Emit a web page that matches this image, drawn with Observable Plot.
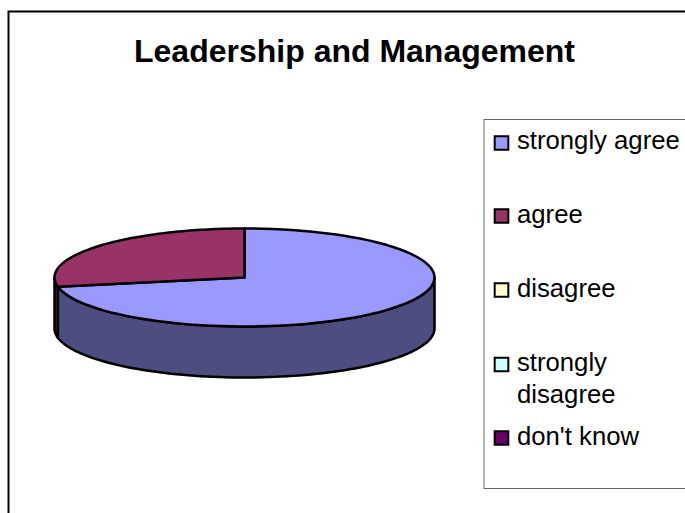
<!DOCTYPE html>
<html>
<head>
<meta charset="utf-8">
<script src="https://cdn.jsdelivr.net/npm/d3@7"></script>
<script src="https://cdn.jsdelivr.net/npm/@observablehq/plot@0.6"></script>
<style>
html,body{margin:0;padding:0;background:#fff;overflow:hidden}
svg{display:block}
</style>
</head>
<body>
<div id="chart"></div>
<script>
const chartTitle = "Leadership and Management";
const categories = ["strongly agree", "agree", "disagree", "strongly disagree", "don't know"];
const values = [72, 28, 0, 0, 0];
const colors = ["#9999ff", "#993366", "#ffffcc", "#ccffff", "#660066"];
const wallColors = ["#4d4d80", "#4d1a33"];

// layout
const W = 685, H = 513;
const cx = 244, cy = 277, rx = 190, ry = 49, depth = 51 / 49;
const legendFont = 25.7, legendX = 516.5, swatchX = 501;
const legendRows = [
  {cat: 0, swatch: 142.5, lines: [["strongly agree", 140]]},
  {cat: 1, swatch: 215.5, lines: [["agree", 214]]},
  {cat: 2, swatch: 289.5, lines: [["disagree", 288]]},
  {cat: 3, swatch: 364, lines: [["strongly", 362], ["disagree", 394]]},
  {cat: 4, swatch: 437.5, lines: [["don't know", 436]]}
];

const total = d3.sum(values);
// angle measured clockwise from 12 o'clock; slices start at 12 o'clock
const pt = (a, drop = 0, category) => ({u: Math.sin(a), v: Math.cos(a) - drop, category});
let start = 0;
const slices = [];
categories.forEach((c, i) => {
  const a0 = start, a1 = start + values[i] / total * 2 * Math.PI;
  start = a1;
  if (values[i] > 0) slices.push({c, i, a0, a1});
});
const steps = (a0, a1, n = 90) => d3.range(n + 1).map(k => a0 + (a1 - a0) * k / n);

const topPaths = slices.flatMap(s => {
  const rim = steps(s.a0, s.a1).map(a => pt(a, 0, s.c));
  return [{u: 0, v: 0, category: s.c}, ...rim, {u: 0, v: 0, category: s.c}];
});

// side wall: only the part of each slice on the front half (90deg..270deg)
const walls = slices.map((s, i) => {
  const a0 = Math.max(s.a0, Math.PI / 2), a1 = Math.min(s.a1, 3 * Math.PI / 2);
  if (a1 <= a0) return [];
  const ang = steps(a0, a1);
  const pts = [...ang.map(a => pt(a)), ...ang.slice().reverse().map(a => pt(a, depth))];
  return [...pts, pts[0]];
});

const legendSwatches = legendRows.map(r =>
  Plot.dot([categories[r.cat]], {
    frameAnchor: "top-left", dx: swatchX, dy: r.swatch,
    symbol: "square", r: 7.7, fill: d => d, stroke: "black", strokeWidth: 2
  })
);
const legendTexts = legendRows.flatMap(r => r.lines.map(([t, y]) =>
  Plot.text([t], {
    frameAnchor: "top-left", lineAnchor: "middle", dx: legendX, dy: y, text: d => d, textAnchor: "start",
    fontSize: legendFont, fill: "black"
  })
));

const plot = Plot.plot({
  width: W, height: H,
  marginLeft: 0, marginRight: 0, marginTop: 0, marginBottom: 0,
  style: {fontFamily: "'Liberation Sans', Arial, sans-serif", background: "#fff", overflow: "hidden"},
  x: {domain: [-cx / rx, (W - cx) / rx], range: [0, W], axis: null},
  y: {domain: [-(H - cy) / ry, cy / ry], range: [H, 0], axis: null},
  color: {type: "ordinal", domain: categories, range: colors},
  marks: [
    Plot.frame({stroke: "black", strokeWidth: 2, insetLeft: 8, insetTop: 11, insetRight: -6, insetBottom: -6}),
    Plot.frame({stroke: "#666", strokeWidth: 1, insetLeft: 483.5, insetTop: 119, insetRight: -6, insetBottom: 25}),
    Plot.text([chartTitle], {
      frameAnchor: "top-left", lineAnchor: "middle", dx: 354, dy: 51, text: d => d, textAnchor: "middle",
      fontSize: 32, fontWeight: "bold", fill: "black"
    }),
    ...walls.map((w, i) => Plot.line(w, {
      x: "u", y: "v", fill: wallColors[i], stroke: "black", strokeWidth: 2.5, strokeLinejoin: "round"
    })),
    Plot.line(topPaths, {
      x: "u", y: "v", z: "category", fill: "category", stroke: "black", strokeWidth: 2.5, strokeLinejoin: "round"
    }),
    ...legendSwatches,
    ...legendTexts
  ]
});
document.getElementById("chart").append(plot);
</script>
</body>
</html>
